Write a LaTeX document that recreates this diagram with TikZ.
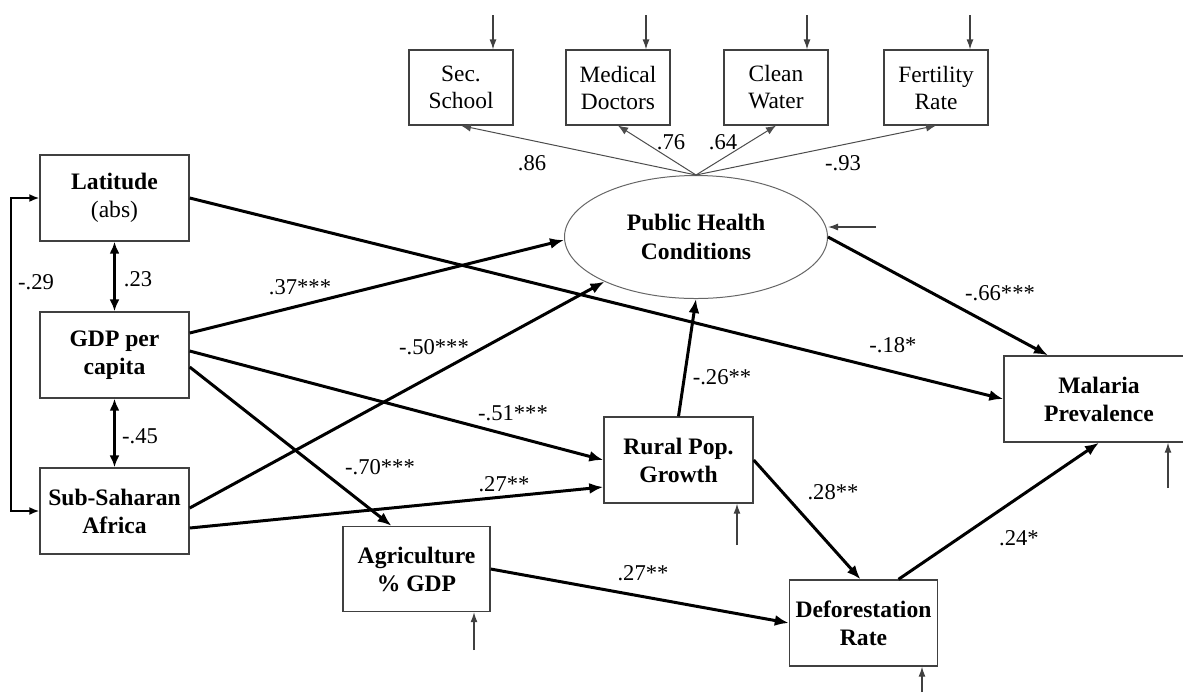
\documentclass[tikz,border=0pt]{standalone}
\usepackage{fontspec}
\setmainfont{Liberation Serif}
\usetikzlibrary{arrows.meta,shapes.geometric,calc}

\begin{document}
\begin{tikzpicture}[x=0.5pt, y=-0.5pt,
    var/.style={draw=black!75, line width=0.7pt, inner sep=0pt, align=center,
        minimum width=74.5pt, minimum height=43pt, font=\fontsize{11.8}{14}\selectfont\bfseries},
    ind/.style={draw=black!75, line width=0.6pt, inner sep=0pt, align=center,
        minimum width=52pt, minimum height=37.5pt, font=\fontsize{11.7}{13.5}\selectfont},
    latent/.style={ellipse, draw=black!60, line width=0.5pt, inner sep=0pt, align=center,
        minimum width=131.5pt, minimum height=61.5pt, font=\fontsize{11.8}{14.5}\selectfont\bfseries},
    effect/.style={line width=1.5pt, -{Latex[length=7pt,width=5.5pt]}},
    corr/.style={line width=1.4pt, {Latex[length=6pt,width=5pt]}-{Latex[length=6pt,width=5pt]}},
    loading/.style={line width=0.5pt, draw=black!70, -{Latex[length=5pt,width=4pt]}},
    err/.style={line width=0.6pt, draw=black!75, -{Latex[length=5pt,width=3.5pt]}},
    coef/.style={inner sep=1pt, font=\fontsize{11.3}{13}\selectfont}]
    \useasboundingbox (0,0) rectangle (1183,693);

    % Exogenous variables
    \node[var] (lat) at (114.5,198) {Latitude\\{\mdseries (abs)}};
    \node[var] (gdp) at (114.5,355) {GDP per\\capita};
    \node[var] (ssa) at (114.5,511) {Sub-Saharan\\Africa};

    % Indicators of the latent factor
    \node[ind] (sec) at (461,87.5) {Sec.\\School};
    \node[ind] (doc) at (618,87.5) {Medical\\Doctors};
    \node[ind] (wat) at (776,87.5) {Clean\\Water};
    \node[ind] (fer) at (936,87.5) {Fertility\\Rate};

    % Latent factor and endogenous variables
    \node[latent] (phc) at (696,237) {Public Health\\Conditions};
    \node[var] (rur) at (678.5,460) {Rural Pop.\\Growth};
    \node[var, minimum width=73.5pt, minimum height=42.5pt] (agr) at (416.5,569) {Agriculture\\\% GDP};
    \node[var, minimum width=74pt] (def) at (863.5,623) {Deforestation\\Rate};
    \node[var, minimum width=95pt] (mal) at (1099,399) {Malaria\\Prevalence};

    % Structural paths
    \draw[effect] (lat.east) -- (mal.west);
    \draw[effect] ($(gdp.east)+(0,-22)$) -- ($(phc.west)+(0,3)$);
    \draw[effect] ($(gdp.east)+(0,-4)$) -- (rur.west);
    \draw[effect] ($(gdp.east)+(0,12)$) -- ($(agr.north)+(-25,0)$);
    \draw[effect] ($(ssa.east)+(0,-3)$) -- (phc.206);
    \draw[effect] ($(ssa.east)+(0,17)$) -- ($(rur.west)+(0,27)$);
    \draw[effect] (rur.north) -- (phc.south);
    \draw[effect] (rur.east) -- ($(def.north)+(-3,0)$);
    \draw[effect] (agr.east) -- (def.west);
    \draw[effect] ($(def.north)+(35,0)$) -- (mal.south);
    \draw[effect] (phc.east) -- ($(mal.north)+(-51,0)$);

    % Loadings
    \foreach \n in {sec,doc,wat,fer} {
        \draw[loading] (phc.north) -- (\n.south);
    }

    % Correlations among exogenous variables
    \draw[corr] (lat.south) -- (gdp.north);
    \draw[corr] (gdp.south) -- (ssa.north);
    \draw[line width=0.9pt, {Latex[length=5pt,width=4pt]}-{Latex[length=5pt,width=4pt]}]
        (lat.west) -- ++(-28,0) |- (ssa.west);

    % Error terms
    \foreach \n/\x in {sec/493, doc/646, wat/807, fer/970} {
        \coordinate (e\n) at (\x,15);
        \draw[err] (e\n) -- (e\n |- \n.north);
    }
    \coordinate (ephc) at (876,227);
    \draw[err] (ephc) -- (ephc -| phc.east);
    \foreach \n/\x/\y in {rur/737/545, agr/474/650, def/922/692, mal/1168/488} {
        \coordinate (e\n) at (\x,\y);
        \draw[err] (e\n) -- (e\n |- \n.south);
    }

    % Coefficients
    \node[coef] (c86) at (532,163) {.86};
    \node[coef] (c76) at (671,142) {.76};
    \node[coef] (c64) at (723,142) {.64};
    \node[coef] (c93) at (843,163) {-.93};
    \node[coef] (c23) at (138,279) {.23};
    \node[coef] (c45) at (140,436) {-.45};
    \node[coef] (c29) at (36,282) {-.29};
    \node[coef] (c37) at (300,287) {.37***};
    \node[coef] (c50) at (434,347) {-.50***};
    \node[coef] (c51) at (513,413) {-.51***};
    \node[coef] (c70) at (380,467) {-.70***};
    \node[coef] (c27a) at (504,484) {.27**};
    \node[coef] (c27b) at (643,573) {.27**};
    \node[coef] (c26) at (722,377) {-.26**};
    \node[coef] (c18) at (893,345) {-.18*};
    \node[coef] (c28) at (833,492) {.28**};
    \node[coef] (c66) at (1000,293) {-.66***};
    \node[coef] (c24) at (1019,538) {.24*};
\end{tikzpicture}
\end{document}
